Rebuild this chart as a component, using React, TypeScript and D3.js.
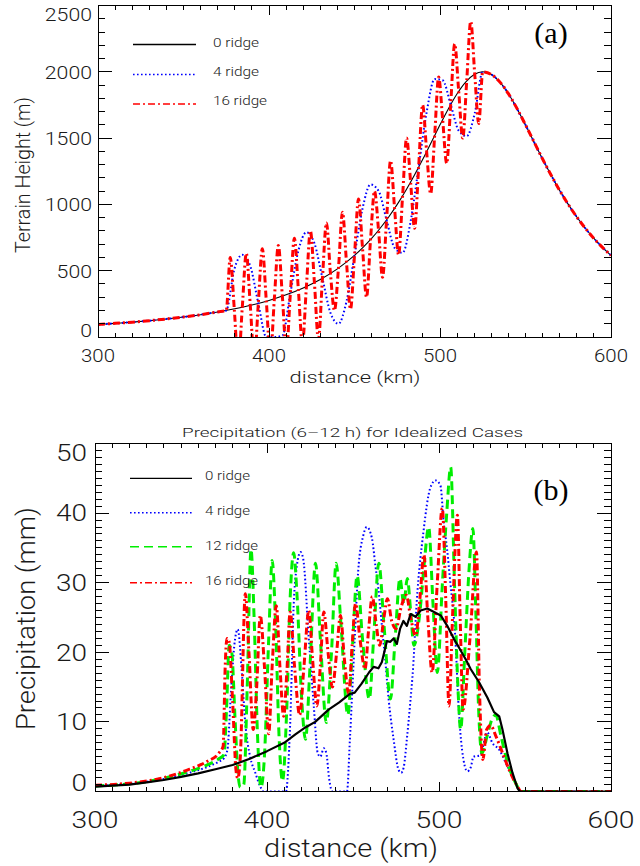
import React from 'react';
import * as d3 from 'd3';

// ---------- Panel (a): terrain height ----------
const terrainX0 = [300,310,320,330,340,350,360,370,380,390,400,410,420,430,440,450,455,460,465,470,475,480,485,490,495,500,505,510,515,520,525,530,535,540,545,550,555,560,565,570,575,580,585,590,595,600];
const terrain0 = [94,103,112,123,136,151,168,189,213,241,276,318,370,434,514,615,676,743,820,905,1000,1105,1220,1342,1471,1600,1724,1835,1923,1980,2000,1980,1923,1835,1724,1600,1471,1342,1220,1105,1000,905,820,743,676,615];

const sharedLeftX = [300,310,320,330,340,350,360,370];
const sharedLeft = [94,103,112,123,136,151,168,189];
const sharedRightX = [530,535,540,545,550,555,560,565,570,575,580,585,590,595,600];
const sharedRight = [1980,1923,1835,1724,1600,1471,1342,1220,1105,1000,905,820,743,676,615];

const ridge4X = [375,379.69,384.38,389.06,393.75,398.44,403.13,407.81,412.5,417.19,421.88,426.56,431.25,435.94,440.63,445.31,450,454.69,459.38,464.06,468.75,473.44,478.13,482.81,487.5,492.19,496.88,501.56,506.25,510.94,515.63,520.31,525];
const ridge4 = [200,509,620,535,253,0,0,10,330,651,790,707,443,182,100,268,615,968,1150,1102,883,672,635,871,1280,1695,1945,1936,1753,1556,1515,1686,2000];

const ridge16X = [375,377.34,379.69,382.03,384.38,386.72,389.06,391.41,393.75,396.09,398.44,400.78,403.13,405.47,407.81,410.16,412.5,414.84,417.19,419.53,421.88,424.22,426.56,428.91,431.25,433.59,435.94,438.28,440.63,442.97,445.31,447.66,450,452.34,454.69,457.03,459.38,461.72,464.06,466.41,468.75,471.09,473.44,475.78,478.13,480.47,482.81,485.16,487.5,489.84,492.19,494.53,496.88,499.22,501.56,503.91,506.25,508.59,510.94,513.28,515.63,517.97,520.31,522.66,525];
const ridge16 = [200,600,212,-200,224,630,238,-174,253,665,270,-141,288,690,308,-101,330,745,354,-53,381,800,410,-20,443,860,479,200,520,940,565,210,615,1040,671,300,735,1100,805,450,883,1330,969,620,1064,1500,1168,820,1280,1750,1398,1080,1520,1960,1639,1310,1753,2210,1853,1500,1932,2380,1983,1610,2000];

const terrainTicks = [0,500,1000,1500,2000,2500];
const distanceTicks = [300,400,500,600];

// ---------- Panel (b): precipitation ----------
const precip0: [number, number][] = [[300,0.7],[310,0.85],[320,1.0],[330,1.3],[340,1.65],[350,2.1],[360,2.6],[370,3.2],[380,3.8],[390,4.7],[400,5.8],[410,7.0],[416.5,8.2],[422.3,9.2],[428,10.0],[436,11.8],[442,12.8],[448,14.0],[451,14.2],[455,15.5],[459.3,17.1],[462,17.9],[464.8,17.7],[466.8,18.6],[469.7,21.6],[471.7,21.5],[473.6,22.0],[475.5,21.2],[477.4,23.4],[479.3,24.5],[481.3,23.8],[483.5,25.5],[486.4,25.1],[489.3,26.0],[493.2,26.3],[497.1,25.8],[501,25.3],[504.8,23.8],[508.7,21.9],[511.6,20.7],[515.5,19.0],[518.4,17.6],[523.3,15.7],[528.1,13.5],[532,11.4],[535,10.8],[536.9,8.9],[539.8,5.5],[542.7,2.7],[545.6,0.5],[547,0],[560,0],[580,0],[600,0]];

const precip4: [number, number][] = [[300,0.8],[320,1.1],[340,1.8],[355,2.7],[365,3.5],[372,4.3],[375,4.8],[377,6],[379,14],[381,21],[383,23.3],[385.4,17],[387.3,10],[390.2,5],[393.2,2.7],[396.1,0.7],[398,0],[411,0],[413.5,9.9],[415.5,26.7],[417.4,32.5],[419.5,34.4],[421,33.5],[424.3,22],[427.2,12.3],[429.5,5.5],[431,5],[433,6.2],[434.5,5.5],[436.2,1.7],[438,0],[446.5,0],[448.2,7.5],[451,22],[453,31.6],[456,36.8],[458,38],[461,36.4],[463,32.5],[464.8,29],[466.8,23.8],[468.7,19],[470.7,13.3],[473.6,7.5],[476.5,3.1],[478,2.7],[479.5,3.5],[481.3,7.5],[483,12],[485,18],[487,27],[491,37.4],[494.9,43.6],[498,44.7],[500.8,44],[502.7,38.8],[504.6,35],[506.6,30],[509.5,22],[511.4,12.2],[513.4,6],[516.5,2.9],[518.5,3.5],[520,5],[524,5.2],[528,8.5],[531,7],[535,6],[540,3.5],[545,1],[548,0],[560,0],[580,0],[600,0]];

const precip12: [number, number][] = [[300,0.8],[320,1.1],[340,1.9],[355,2.9],[365,3.8],[372,4.7],[375,5.3],[376.5,12],[378,21],[379.5,20],[381.5,10],[383,3],[384.5,0.6],[386.5,1],[388.5,15],[390.7,34.8],[392.5,25],[394.5,8],[396.5,0.6],[398.5,5],[401,22],[403,33.2],[405,24],[407,8],[409,1.5],[411.5,12],[413.5,28],[415.5,34.3],[417.5,28],[420,14],[422.4,7.5],[425,18],[428.2,32.8],[431,22],[434.5,9.9],[437.5,20],[440.2,32.8],[443,24],[447,11],[449.5,20],[452.4,31],[455.5,22],[459.5,13.3],[462,22],[465,32.8],[468,24],[471.8,13.3],[474.5,22],[477.3,30.6],[479.5,27],[481.6,30.6],[483.5,26],[485.4,21],[489,26],[491.5,33],[494,38],[496.5,27],[499,17.1],[502,30],[504.5,40],[506.8,46.6],[509,30],[511,15],[512.6,8.9],[515,20],[517.5,32],[519.7,37.8],[521.5,25],[523,12],[525,5.5],[528,8],[531,10.5],[533,11],[536,8],[540,4],[544,1.5],[548,0],[560,0],[580,0],[600,0]];

const precip16: [number, number][] = [[300,0.9],[320,1.2],[340,2.0],[355,3.2],[365,4.3],[372,5.5],[374.5,6.5],[375.7,18],[376.7,22],[378,21.5],[380,13],[382,3],[383,1.9],[384.5,5],[387.4,28.4],[389.5,20],[392,8.9],[394,15],[396.1,25.3],[398.5,18],[401,8.3],[403,18],[405.4,26.7],[407.5,18],[409.7,10.8],[411.5,17],[413.5,25.8],[416,18],[419,11],[421.5,18],[424.3,26],[426.5,19],[429,12.3],[431,18],[433,25.8],[435.5,20],[438,15],[440.5,20],[442.7,25.3],[445,19],[447.5,14],[449.5,21],[451.5,27],[454,22],[457,17.6],[459,23],[461.2,28],[463.5,24],[465.5,21],[468,25],[470,27.7],[472.5,24.5],[475,23.4],[478,26.5],[481,28.2],[483.5,25],[486.4,22.4],[489,28],[491.2,34],[493.5,25],[496,17.1],[499,30],[501.9,40.7],[504,27],[505.8,12.3],[508,26],[510.7,39.7],[512.3,25],[514,11.8],[518,22],[521.8,34.4],[523.5,15],[525.5,4.6],[527.7,8.9],[530,9.5],[533,8],[537,5.5],[541,3],[545,1],[548,0],[560,0],[600,0]];

const precipTicks = [0,10,20,30,40,50];

const FONT = 'Roboto, "DejaVu Sans", sans-serif';
const TXT = '#1a1a1a';

function Ticks({ xs, ys, xMinor, xMajor, yMinor, yMajor, xLen, yLen }: any) {
  const [x0, x1] = xs.range();
  const [y0, y1] = ys.range(); // y0 bottom, y1 top
  const out: any[] = [];
  xMinor.forEach((v: number) => {
    const major = xMajor.includes(v);
    const L = major ? xLen : xLen / 2;
    const x = xs(v);
    out.push(<line key={'xb' + v} x1={x} x2={x} y1={y0} y2={y0 - L} />);
    out.push(<line key={'xt' + v} x1={x} x2={x} y1={y1} y2={y1 + L} />);
  });
  yMinor.forEach((v: number) => {
    const major = yMajor.includes(v);
    const L = major ? yLen : yLen / 2;
    const y = ys(v);
    out.push(<line key={'yl' + v} x1={x0} x2={x0 + L} y1={y} y2={y} />);
    out.push(<line key={'yr' + v} x1={x1} x2={x1 - L} y1={y} y2={y} />);
  });
  return (
    <g stroke="#000" strokeWidth={1} shapeRendering="crispEdges">
      {out}
      <rect x={x0} y={y1} width={x1 - x0} height={y0 - y1} fill="none" />
    </g>
  );
}

export default function App() {
  // panel a scales
  const xa = d3.scaleLinear().domain([300, 600]).range([98, 611]);
  const ya = d3.scaleLinear().domain([0, 2500]).range([337, 5.5]);
  // panel b scales
  const xb = d3.scaleLinear().domain([300, 600]).range([95, 611]);
  const yb = d3.scaleLinear().domain([0, 50]).range([791.5, 443.5]);

  const lineA = (X: number[], Y: number[], curve: any) =>
    d3.line<number>().x((_, i) => xa(X[i])).y((d) => ya(d)).curve(curve)(Y) || '';
  const lineB = (P: [number, number][], curve: any) =>
    d3.line<[number, number]>().x((d) => xb(d[0])).y((d) => yb(d[1])).curve(curve)(P) || '';

  const t4X = [...sharedLeftX, ...ridge4X, ...sharedRightX];
  const t4 = [...sharedLeft, ...ridge4, ...sharedRight];
  const t16X = [...sharedLeftX, ...ridge16X, ...sharedRightX];
  const t16 = [...sharedLeft, ...ridge16, ...sharedRight];

  const minor10 = d3.range(300, 601, 10);
  const minorA = d3.range(0, 2501, 100);
  const minorB = d3.range(0, 51, 1);

  const BLUE = '#0000ff', RED = '#ff0000', GREEN = '#00ee00';
  const dotted = '1.6 2.4';
  const dashdot = '7 3 2 3';
  const dashed = '9 5';

  const legA = [
    { label: '0 ridge', color: '#000', dash: undefined, w: 1.3, y: 44.5, ty: 42.7, tl: 46 },
    { label: '4 ridge', color: BLUE, dash: dotted, w: 1.6, y: 74.5, ty: 71.7, tl: 46 },
    { label: '16 ridge', color: RED, dash: dashdot, w: 1.6, y: 104, ty: 100.7, tl: 54 },
  ];
  const legB = [
    { label: '0 ridge', color: '#000', dash: undefined, w: 1.3, y: 478.3, ty: 475, tl: 45 },
    { label: '4 ridge', color: BLUE, dash: dotted, w: 1.6, y: 512.7, ty: 510, tl: 45 },
    { label: '12 ridge', color: GREEN, dash: dashed, w: 1.6, y: 546.7, ty: 545, tl: 53 },
    { label: '16 ridge', color: RED, dash: dashdot, w: 1.6, y: 582.7, ty: 580, tl: 53 },
  ];

  const yLabelA = (v: number) => {
    if (v === 0) return ya(0);
    if (v === 2500) return ya(2500) + 15.5;
    return ya(v) + 6.8;
  };
  const yLabelB = (v: number) => {
    if (v === 0) return yb(0) - 1;
    if (v === 50) return yb(50) + 17.5;
    return yb(v) + 8.3;
  };

  return (
    <svg width={640} height={866} viewBox="0 0 640 866"
      style={{ position: 'absolute', left: 0, top: 0, background: '#fff' }}
      xmlns="http://www.w3.org/2000/svg">
      <defs>
        <clipPath id="clipA"><rect x={98} y={5.5} width={513} height={331.5} /></clipPath>
        <clipPath id="clipB"><rect x={95} y={443.5} width={516} height={348} /></clipPath>
      </defs>
      <rect width={640} height={866} fill="#fff" />

      {/* ===== Panel (a) ===== */}
      <g clipPath="url(#clipA)" fill="none" strokeLinejoin="round">
        <path d={lineA(terrainX0, terrain0, d3.curveMonotoneX)} stroke="#000" strokeWidth={1.1} />
        <path d={lineA(t4X, t4, d3.curveMonotoneX)} stroke={BLUE} strokeWidth={2} strokeDasharray={dotted} />
        <path d={lineA(t16X, t16, d3.curveMonotoneX)} stroke={RED} strokeWidth={3} strokeDasharray={dashdot} />
      </g>
      <Ticks xs={xa} ys={ya} xMinor={minor10} xMajor={distanceTicks} yMinor={minorA} yMajor={terrainTicks} xLen={9} yLen={14} />
      <g fontFamily={FONT} fontWeight={300} fill={TXT}>
        {terrainTicks.map((v) => (
          <text key={'ta' + v} x={92} y={yLabelA(v)} fontSize={19} textAnchor="end"
            textLength={String(v).length * 11.8} lengthAdjust="spacingAndGlyphs">{v}</text>
        ))}
        {distanceTicks.map((v) => (
          <text key={'da' + v} x={xa(v)} y={362} fontSize={19} textAnchor="middle"
            textLength={34} lengthAdjust="spacingAndGlyphs">{v}</text>
        ))}
        <text x={355} y={383} fontSize={17} textAnchor="middle" textLength={131} lengthAdjust="spacingAndGlyphs">distance (km)</text>
        <text transform="translate(30,175) rotate(-90)" fontSize={20} textAnchor="middle" textLength={156} lengthAdjust="spacingAndGlyphs">Terrain Height (m)</text>
        {legA.map((l) => (
          <g key={'la' + l.label}>
            <line x1={133} x2={196} y1={l.y} y2={l.y} stroke={l.color} strokeWidth={l.w} strokeDasharray={l.dash} />
            <text x={213} y={l.ty + 4.3} fontSize={12.5} textLength={l.tl} lengthAdjust="spacingAndGlyphs">{l.label}</text>
          </g>
        ))}
      </g>
      <text x={551} y={43} fontSize={30} fontFamily='"Liberation Serif", "Times New Roman", serif' textAnchor="middle" fill="#000">(a)</text>

      {/* ===== Panel (b) ===== */}
      <text x={352.5} y={437} fontSize={13} fontFamily={FONT} fontWeight={300} fill={TXT} textAnchor="middle"
        textLength={341} lengthAdjust="spacingAndGlyphs">Precipitation (6–12 h) for Idealized Cases</text>
      <g clipPath="url(#clipB)" fill="none" strokeLinejoin="round">
        <path d={lineB(precip4, d3.curveMonotoneX)} stroke={BLUE} strokeWidth={2} strokeDasharray={dotted} />
        <path d={lineB(precip12, d3.curveMonotoneX)} stroke={GREEN} strokeWidth={3} strokeDasharray={dashed} />
        <path d={lineB(precip16, d3.curveMonotoneX)} stroke={RED} strokeWidth={3} strokeDasharray={dashdot} />
        <path d={lineB(precip0, d3.curveLinear)} stroke="#000" strokeWidth={2.2} />
      </g>
      <Ticks xs={xb} ys={yb} xMinor={minor10} xMajor={distanceTicks} yMinor={minorB} yMajor={precipTicks} xLen={9.5} yLen={14} />
      <g fontFamily={FONT} fontWeight={300} fill={TXT}>
        {precipTicks.map((v) => (
          <text key={'tb' + v} x={87} y={yLabelB(v)} fontSize={23} textAnchor="end"
            textLength={String(v).length * 15.5} lengthAdjust="spacingAndGlyphs">{v}</text>
        ))}
        {distanceTicks.map((v) => (
          <text key={'db' + v} x={xb(v)} y={828} fontSize={24} textAnchor="middle"
            textLength={47} lengthAdjust="spacingAndGlyphs">{v}</text>
        ))}
        <text x={351} y={857} fontSize={25} textAnchor="middle" textLength={174} lengthAdjust="spacingAndGlyphs">distance (km)</text>
        <text transform="translate(35,618.5) rotate(-90)" fontSize={25} textAnchor="middle" textLength={223} lengthAdjust="spacingAndGlyphs">Precipitation (mm)</text>
        {legB.map((l) => (
          <g key={'lb' + l.label}>
            <line x1={130} x2={192} y1={l.y} y2={l.y} stroke={l.color} strokeWidth={l.w} strokeDasharray={l.dash} />
            <text x={205} y={l.ty + 4.5} fontSize={13} textLength={l.tl} lengthAdjust="spacingAndGlyphs">{l.label}</text>
          </g>
        ))}
      </g>
      <text x={551} y={500} fontSize={30} fontFamily='"Liberation Serif", "Times New Roman", serif' textAnchor="middle" fill="#000">(b)</text>
    </svg>
  );
}
